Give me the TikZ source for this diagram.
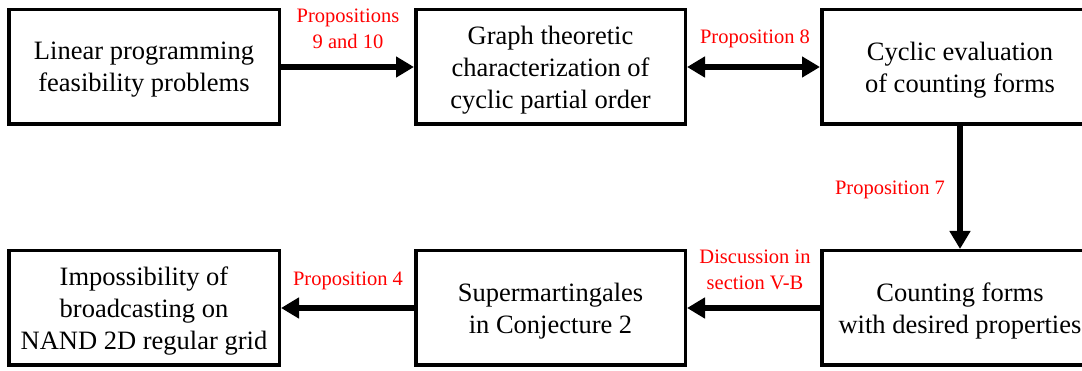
\documentclass[tikz,border=0pt]{standalone}
\usepackage{fontspec}
\setmainfont{Liberation Serif}
\usetikzlibrary{arrows.meta}
\begin{document}
\begin{tikzpicture}[x=1pt,y=-1pt,
  box/.style={draw, line width=3.5pt, minimum height=114.5pt, align=center,
    font=\fontsize{26.5}{32}\selectfont, inner sep=0pt, text depth=0pt},
  lbl/.style={text=red, align=center, font=\fontsize{20.5}{25.5}\selectfont, inner sep=0pt},
  conn/.style={line width=5.5pt, -{Triangle[length=18pt,width=20pt]}},
  dconn/.style={line width=5.5pt, {Triangle[length=18pt,width=20pt]}-{Triangle[length=18pt,width=20pt]}}]
\useasboundingbox (0,0) rectangle (1082,371);
\node[box, minimum width=270.5pt] (b1) at (144,67) {Linear programming\\feasibility problems};
\node[box, minimum width=269.5pt] (b2) at (550.5,67) {Graph theoretic\\characterization of\\cyclic partial order};
\node[box, minimum width=276.5pt] (b3) at (960,67) {Cyclic evaluation\\of counting forms};
\node[box, minimum width=270.5pt] (b4) at (144,308) {Impossibility of\\broadcasting on\\NAND 2D regular grid};
\node[box, minimum width=269.5pt] (b5) at (550.5,308) {Supermartingales\\in Conjecture 2};
\node[box, minimum width=276.5pt] (b6) at (960,308) {Counting forms\\with desired properties};
\draw[conn] (b1) -- (b2);
\draw[dconn] (b2) -- (b3);
\draw[conn] (b3) -- (b6);
\draw[conn] (b6) -- (b5);
\draw[conn] (b5) -- (b4);
\node[lbl] (l1) at (348,29) {Propositions\\9 and 10};
\node[lbl] (l2) at (755,39) {Proposition 8};
\node[lbl] (l3) at (890,190) {Proposition 7};
\node[lbl] (l4) at (348,281) {Proposition 4};
\node[lbl] (l5) at (755,270) {Discussion in\\section V-B};
\end{tikzpicture}
\end{document}
